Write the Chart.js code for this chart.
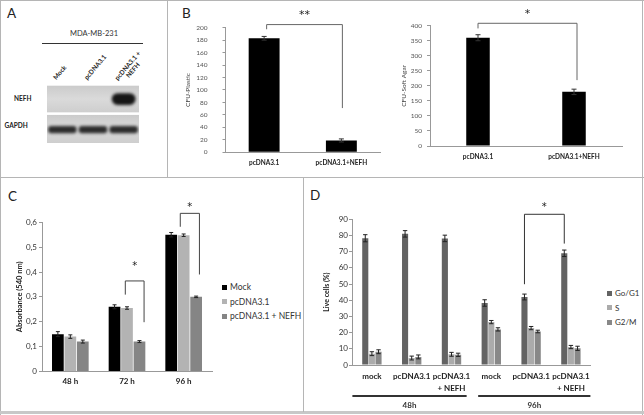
<!DOCTYPE html>
<html>
<head>
<meta charset="utf-8">
<script src="https://cdn.jsdelivr.net/npm/chart.js@4.4.1/dist/chart.umd.min.js"></script>
<style>
body { margin: 0; width: 644px; height: 415px; background: #fff; position: relative; overflow: hidden; font-family: Lato, 'Open Sans', sans-serif; color: #222; }
canvas { position: absolute; }
.rule { position: absolute; background: #b5b5b5; }
.txt { position: absolute; white-space: nowrap; line-height: 1; }
.panel { font-size: 13.5px; color: #222; }
.lane { position: absolute; white-space: nowrap; font-size: 6.5px; font-weight: bold; line-height: 7px; text-align: center; transform-origin: 0 100%; transform: rotate(-50deg); }
.legend { position: absolute; font-size: 8.5px; color: #333; }
.legend div { height: 14.5px; display: flex; align-items: center; }
.legend span { display: inline-block; width: 5px; height: 5px; margin-right: 3px; }
</style>
</head>
<body>

<!-- panel frames -->
<div class="rule" style="left:0;top:0;width:644px;height:1px"></div>
<div class="rule" style="left:0;top:0;width:1px;height:415px"></div>
<div class="rule" style="left:642px;top:0;width:1px;height:415px"></div>
<div class="rule" style="left:0;top:411px;width:644px;height:3px;background:#c8c8c8"></div>
<div class="rule" style="left:167px;top:0;width:1px;height:177px"></div>
<div class="rule" style="left:0;top:177px;width:644px;height:1px"></div>
<div class="rule" style="left:303px;top:177px;width:1px;height:235px"></div>

<div class="txt panel" style="left:7px;top:7px">A</div>
<div class="txt panel" style="left:182px;top:7px">B</div>
<div class="txt panel" style="left:8px;top:190px">C</div>
<div class="txt panel" style="left:310px;top:189px">D</div>

<!-- panel A labels -->
<div class="txt" style="left:94px;top:30px;font-size:7.5px;color:#333;transform:translateX(-50%)">MDA-MB-231</div>
<div style="position:absolute;left:42px;top:43px;width:101px;height:1px;background:#333"></div>
<div class="txt" style="left:14px;top:95.5px;font-size:6.5px;font-weight:bold">NEFH</div>
<div class="txt" style="left:4.5px;top:122.5px;font-size:6.5px;font-weight:bold">GAPDH</div>
<div id="lanes"></div>

<canvas id="blotA" width="116" height="88" style="left:47px;top:55px"></canvas>
<canvas id="plasticB" width="215" height="175" style="left:172px;top:0"></canvas>
<canvas id="agarB" width="232" height="175" style="left:398px;top:0"></canvas>
<canvas id="absC" width="216" height="232" style="left:0;top:180px"></canvas>
<canvas id="cycleD" width="290" height="232" style="left:306px;top:180px"></canvas>

<div class="legend" id="legendC" style="left:222px;top:280px"></div>
<div class="legend" id="legendD" style="left:607px;top:286px;font-size:8px"></div>

<script>
// Panel A - western blot band levels per lane
const blotLanes = ['Mock', 'pcDNA3.1', ['pcDNA3.1 +', 'NEFH']];
const nefhBand = [0, 0, 1];
const gapdhBand = [1, 1, 1];

// Panel B - colony counts
const colonyGroups = ['pcDNA3.1', 'pcDNA3.1+NEFH'];
const plasticCfu = [183, 19];
const plasticErr = [3, 2.5];
const softAgarCfu = [360, 180];
const softAgarErr = [10, 9];

// Panel C - absorbance (540 nm)
const timePoints = ['48 h', '72 h', '96 h'];
const mockAbs = [0.15, 0.26, 0.55];
const mockAbsErr = [0.01, 0.008, 0.009];
const vectorAbs = [0.14, 0.255, 0.548];
const vectorAbsErr = [0.007, 0.005, 0.005];
const nefhAbs = [0.12, 0.12, 0.30];
const nefhAbsErr = [0.006, 0.004, 0.003];

// Panel D - cell cycle phases (% live cells)
const cycleGroups = ['mock', 'pcDNA3.1', ['pcDNA3.1', '+ NEFH'], 'mock', 'pcDNA3.1', ['pcDNA3.1', '+ NEFH']];
const timeBlocks = ['48h', '96h'];
const g0g1 = [78.3, 81, 78.2, 38.3, 42, 69];
const g0g1Err = [2.2, 2, 2, 2, 1.8, 2];
const sPhase = [7, 4.3, 6.6, 26.5, 22.8, 11.1];
const sPhaseErr = [1.2, 1.2, 1.2, 1, 1, 1];
const g2m = [8.2, 5, 6.3, 22, 20.7, 10.3];
const g2mErr = [1.2, 1.2, 1, 1, 0.8, 1.3];

Chart.defaults.font.family = 'Lato, sans-serif';
Chart.defaults.color = '#333';

// fixed axis sizes so the plot areas land where the figure has them
const fixWidth = w => s => { s.width = w; };
const fixHeight = h => s => { s.height = h; };

// error bars read from dataset.errors
const errorBars = {
    id: 'errorBars',
    afterDatasetsDraw(chart, args, opts) {
        const ctx = chart.ctx;
        const y = chart.scales.y;
        ctx.save();
        ctx.strokeStyle = opts.color || '#111';
        ctx.lineWidth = 1;
        chart.data.datasets.forEach((ds, i) => {
            if (!ds.errors) return;
            chart.getDatasetMeta(i).data.forEach((bar, j) => {
                const v = ds.data[j], e = ds.errors[j];
                const top = y.getPixelForValue(v + e);
                const bot = y.getPixelForValue(v - e);
                const w = opts.cap || 2;
                ctx.beginPath();
                ctx.moveTo(bar.x, top); ctx.lineTo(bar.x, bot);
                ctx.moveTo(bar.x - w, top); ctx.lineTo(bar.x + w, top);
                ctx.moveTo(bar.x - w, bot); ctx.lineTo(bar.x + w, bot);
                ctx.stroke();
            });
        });
        ctx.restore();
    }
};

// significance brackets, heights in data units
const brackets = {
    id: 'brackets',
    afterDraw(chart, args, opts) {
        const ctx = chart.ctx;
        const y = chart.scales.y;
        (opts.items || []).forEach(b => {
            const x1 = chart.getDatasetMeta(b.from[0]).data[b.from[1]].x + (b.from[2] || 0);
            const x2 = chart.getDatasetMeta(b.to[0]).data[b.to[1]].x + (b.to[2] || 0);
            const yt = y.getPixelForValue(b.top);
            ctx.save();
            ctx.strokeStyle = opts.color || '#555';
            ctx.lineWidth = 1;
            ctx.beginPath();
            ctx.moveTo(x1, y.getPixelForValue(b.left));
            ctx.lineTo(x1, yt);
            ctx.lineTo(x2, yt);
            ctx.lineTo(x2, y.getPixelForValue(b.right));
            ctx.stroke();
            ctx.fillStyle = '#222';
            ctx.font = (opts.size || 10) + 'px "DejaVu Sans", sans-serif';
            ctx.textAlign = 'center';
            ctx.textBaseline = 'middle';
            ctx.fillText(b.text, (x1 + x2) / 2, y.getPixelForValue(b.star) + 1);
            ctx.restore();
        });
    }
};

// time blocks under panel D
const timeBlockLines = {
    id: 'timeBlockLines',
    afterDraw(chart, args, opts) {
        const ctx = chart.ctx;
        const x = chart.scales.x;
        const cat = x.getPixelForValue(1) - x.getPixelForValue(0);
        const base = chart.chartArea.bottom;
        ctx.save();
        opts.blocks.forEach(b => {
            const l = x.getPixelForValue(b.from) + b.l * cat;
            const r = x.getPixelForValue(b.to) + b.r * cat;
            ctx.fillStyle = '#333';
            ctx.fillRect(l, base + opts.lineGap, r - l, 2);
            ctx.font = 'bold 8px Lato, sans-serif';
            ctx.textAlign = 'center';
            ctx.textBaseline = 'middle';
            ctx.fillText(b.label, (l + r) / 2, base + opts.labelGap);
        });
        ctx.restore();
    }
};

// blot background + blurred bands
const blotLook = {
    id: 'blotLook',
    beforeDatasetsDraw(chart, args, opts) {
        const ctx = chart.ctx;
        const a = chart.chartArea;
        const y = chart.scales.y;
        ctx.save();
        opts.rows.forEach(r => {
            const t = y.getPixelForValue(r[0]), b = y.getPixelForValue(r[1]);
            const g = ctx.createLinearGradient(0, t, 0, b);
            g.addColorStop(0, '#cbcbcb');
            g.addColorStop(0.5, '#dadada');
            g.addColorStop(1, '#cecece');
            ctx.fillStyle = g;
            ctx.fillRect(a.left - opts.leftPad, t, a.right - a.left + opts.leftPad, b - t);
        });
        ctx.filter = 'blur(1.5px)';
    },
    afterDatasetsDraw(chart) {
        chart.ctx.restore();
    }
};

// Panel A blot
const blot = new Chart(document.getElementById('blotA'), {
    type: 'bar',
    data: {
        labels: blotLanes,
        datasets: [
            { data: nefhBand.map(v => v ? [0.26, 0.67] : null), backgroundColor: 'rgba(15,15,15,0.97)', barPercentage: 0.78, borderRadius: 9, borderSkipped: false },
            { data: gapdhBand.map(v => v ? [1.41, 1.66] : null), backgroundColor: 'rgba(35,35,35,0.95)', barPercentage: 0.93, borderRadius: 3, borderSkipped: false }
        ]
    },
    options: {
        responsive: false,
        animation: false,
        layout: { padding: { left: 0, right: 24, top: 0, bottom: 0 } },
        datasets: { bar: { grouped: false, categoryPercentage: 1 } },
        plugins: {
            legend: { display: false }, tooltip: { enabled: false },
            blotLook: { rows: [[0, 0.93], [1.02, 2]], leftPad: 4.5 }
        },
        scales: {
            x: { position: 'top', display: false, afterFit: fixHeight(30.7) },
            y: { display: false, min: 0, max: 2, reverse: true }
        }
    },
    plugins: [blotLook]
});

// lane labels, rotated, anchored on the blot's lane positions
(function () {
    const box = document.getElementById('lanes');
    const x = blot.scales.x;
    const canvasLeft = 47, canvasTop = 55;
    blotLanes.forEach((lab, i) => {
        const lines = Array.isArray(lab) ? lab : [lab];
        const n = lines.length;
        const el = document.createElement('div');
        el.className = 'lane';
        el.innerHTML = lines.join('<br>');
        const ax = canvasLeft + x.getPixelForValue(i) - 5 + (n - 1) * 7 * 0.766;
        const ay = canvasTop + x.bottom - 4.5 + (n - 1) * 7 * 0.643;
        el.style.left = ax + 'px';
        el.style.top = (ay - n * 7) + 'px';
        box.appendChild(el);
    });
})();

// Panel B left - CFU plastic
new Chart(document.getElementById('plasticB'), {
    type: 'bar',
    data: {
        labels: colonyGroups,
        datasets: [{ data: plasticCfu, errors: plasticErr, backgroundColor: '#000', barPercentage: 0.4, categoryPercentage: 1 }]
    },
    options: {
        responsive: false,
        animation: false,
        layout: { padding: { left: 0, right: 7, top: 27.7, bottom: 0 } },
        plugins: {
            legend: { display: false }, tooltip: { enabled: false },
            errorBars: { cap: 2.5, color: '#333' },
            brackets: { color: '#666', size: 11, items: [
                { from: [0, 0, 2.5], to: [0, 1, 1], top: 205, left: 197.5, right: 71, star: 221, text: '**' }
            ] }
        },
        scales: {
            x: {
                grid: { display: false, drawTicks: false }, border: { color: '#999' },
                ticks: { font: { size: 6.5, weight: 'bold' }, color: '#222', padding: 6.5 },
                afterFit: fixHeight(22.7)
            },
            y: {
                min: 0, max: 200,
                ticks: { stepSize: 20, font: { size: 6.5 }, color: '#555', padding: 15 },
                grid: { drawOnChartArea: false, tickLength: 3, color: '#999' },
                border: { color: '#999' },
                title: { display: true, text: 'CFU-Plastic', font: { size: 6.5 }, color: '#444', padding: { top: 12.4, bottom: 0 } },
                afterFit: fixWidth(53.5)
            }
        }
    },
    plugins: [errorBars, brackets]
});

// Panel B right - CFU soft agar
new Chart(document.getElementById('agarB'), {
    type: 'bar',
    data: {
        labels: colonyGroups,
        datasets: [{ data: softAgarCfu, errors: softAgarErr, backgroundColor: '#000', barPercentage: 0.245, categoryPercentage: 1 }]
    },
    options: {
        responsive: false,
        animation: false,
        layout: { padding: { left: 0, right: 8, top: 25.7, bottom: 0 } },
        plugins: {
            legend: { display: false }, tooltip: { enabled: false },
            errorBars: { cap: 2.5, color: '#333' },
            brackets: { color: '#666', size: 11, items: [
                { from: [0, 0, 0], to: [0, 1, 3], top: 408, left: 391, right: 219, star: 441, text: '*' }
            ] }
        },
        scales: {
            x: {
                grid: { display: false, drawTicks: false }, border: { color: '#999' },
                ticks: { font: { size: 6.5, weight: 'bold' }, color: '#222', padding: 7 },
                afterFit: fixHeight(29)
            },
            y: {
                min: 0, max: 400,
                ticks: { stepSize: 50, font: { size: 6.5 }, color: '#555', padding: 5 },
                grid: { drawOnChartArea: false, tickLength: 3, color: '#999' },
                border: { color: '#999' },
                title: { display: true, text: 'CFU-Soft Agar', font: { size: 6.5 }, color: '#444', padding: { top: 2.1, bottom: 0 } },
                afterFit: fixWidth(32)
            }
        }
    },
    plugins: [errorBars, brackets]
});

// Panel C - absorbance
const absSeries = [
    { label: 'Mock', data: mockAbs, errors: mockAbsErr, backgroundColor: '#000000' },
    { label: 'pcDNA3.1', data: vectorAbs, errors: vectorAbsErr, backgroundColor: '#b3b3b3' },
    { label: 'pcDNA3.1 + NEFH', data: nefhAbs, errors: nefhAbsErr, backgroundColor: '#858585' }
];
new Chart(document.getElementById('absC'), {
    type: 'bar',
    data: { labels: timePoints, datasets: absSeries },
    options: {
        responsive: false,
        animation: false,
        layout: { padding: { left: 0, right: 4, top: 42.3, bottom: 0 } },
        datasets: { bar: { categoryPercentage: 0.66, barPercentage: 0.94 } },
        plugins: {
            legend: { display: false }, tooltip: { enabled: false },
            errorBars: { cap: 2, color: '#222' },
            brackets: { color: '#444', size: 10, items: [
                { from: [1, 1, -1.7], to: [2, 1, 4.6], top: 0.364, left: 0.309, right: 0.198, star: 0.425, text: '*' },
                { from: [1, 2, -3.4], to: [2, 2, 3.3], top: 0.636, left: 0.582, right: 0.39, star: 0.663, text: '*' }
            ] }
        },
        scales: {
            x: {
                grid: { display: false, drawTicks: false }, border: { color: '#999' },
                ticks: { font: { size: 8, weight: 'bold' }, color: '#222', padding: 5 },
                afterFit: fixHeight(40.6)
            },
            y: {
                min: 0, max: 0.6,
                ticks: { stepSize: 0.1, font: { size: 8 }, color: '#333', padding: 2,
                    callback: v => v === 0 ? '0' : v.toFixed(1).replace('.', ',') },
                grid: { drawOnChartArea: false, tickLength: 3, color: '#999' },
                border: { color: '#999' },
                title: { display: true, text: 'Absorbance (540 nm)', font: { size: 7.5, weight: 'bold' }, color: '#222', padding: { top: 14.8, bottom: 0 } },
                afterFit: fixWidth(42)
            }
        }
    },
    plugins: [errorBars, brackets]
});

// Panel D - cell cycle
const cycleSeries = [
    { label: 'Go/G1', data: g0g1, errors: g0g1Err, backgroundColor: '#636363' },
    { label: 'S', data: sPhase, errors: sPhaseErr, backgroundColor: '#ababab' },
    { label: 'G2/M', data: g2m, errors: g2mErr, backgroundColor: '#888888' }
];
new Chart(document.getElementById('cycleD'), {
    type: 'bar',
    data: { labels: cycleGroups, datasets: cycleSeries },
    options: {
        responsive: false,
        animation: false,
        layout: { padding: { left: 0, right: 5, top: 39.3, bottom: 0 } },
        datasets: { bar: { categoryPercentage: 0.5, barPercentage: 0.92 } },
        plugins: {
            legend: { display: false }, tooltip: { enabled: false },
            errorBars: { cap: 2.2, color: '#222' },
            brackets: { color: '#333', size: 10, items: [
                { from: [0, 4, 0], to: [0, 5, 0], top: 93.1, left: 49.9, right: 75, star: 98.2, text: '*' }
            ] },
            timeBlockLines: { lineGap: 30, labelGap: 40, blocks: [
                { label: timeBlocks[0], from: 0, to: 2, l: -0.49, r: 0.38 },
                { label: timeBlocks[1], from: 3, to: 5, l: -0.33, r: 0.49 }
            ] }
        },
        scales: {
            x: {
                grid: { display: false, drawTicks: false }, border: { color: '#999' },
                ticks: { autoSkip: false, maxRotation: 0, font: { size: 8, weight: 'bold', lineHeight: 1.45 }, color: '#222', padding: 6 },
                afterFit: fixHeight(47)
            },
            y: {
                min: 0, max: 90,
                ticks: { stepSize: 10, font: { size: 8 }, color: '#333', padding: 1 },
                grid: { drawOnChartArea: false, tickLength: 3, color: '#999' },
                border: { color: '#999' },
                title: { display: true, text: 'Live cells (%)', font: { size: 7, weight: 'bold' }, color: '#222', padding: { top: 16.5, bottom: 0 } },
                afterFit: fixWidth(46)
            }
        }
    },
    plugins: [errorBars, brackets, timeBlockLines]
});

// legends for C and D
function buildLegend(id, series) {
    const box = document.getElementById(id);
    series.forEach(s => {
        const row = document.createElement('div');
        const sw = document.createElement('span');
        sw.style.background = s.backgroundColor;
        row.appendChild(sw);
        row.appendChild(document.createTextNode(s.label));
        box.appendChild(row);
    });
}
buildLegend('legendC', absSeries);
buildLegend('legendD', cycleSeries);
</script>
</body>
</html>
